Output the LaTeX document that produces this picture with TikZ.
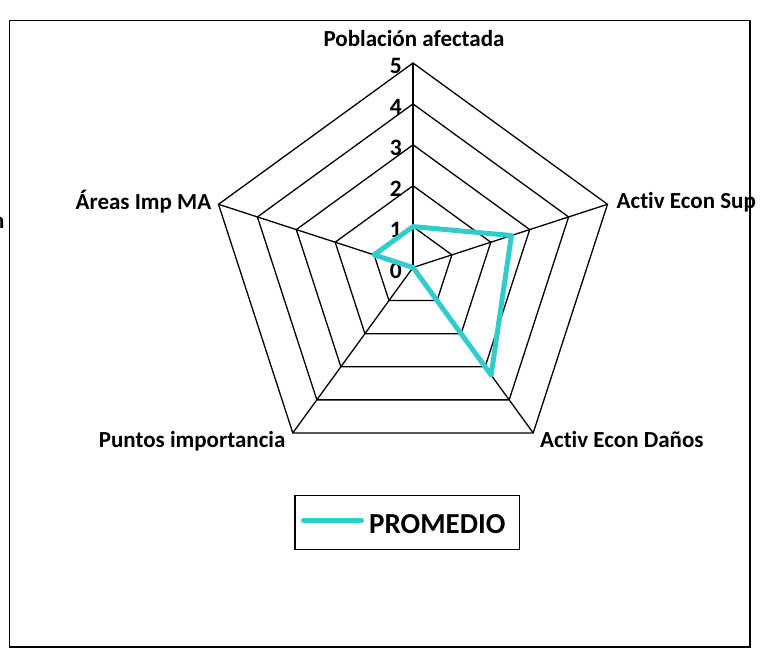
\documentclass[tikz,border=0pt]{standalone}
\usepackage{fontspec}
\setmainfont{Carlito}[Ligatures=NoCommon, RawFeature={-liga;-dlig}]
\usetikzlibrary{calc}
\definecolor{promedio}{RGB}{51,204,204}
\begin{document}
\begin{tikzpicture}[x=1pt,y=-1pt,
  grid/.style={line width=1.3pt, black, line join=miter},
  dataline/.style={line width=5pt, promedio, line join=round},
  axislabel/.style={font=\bfseries\fontsize{23}{27}\selectfont, inner sep=0pt},
  ticklabel/.style={font=\bfseries\fontsize{23.5}{27}\selectfont, inner sep=0pt, anchor=east},
  frame/.style={line width=1.3pt, black}]
\useasboundingbox (0,0) rectangle (771,652);
\clip (0,0) rectangle (771,652);
% outer frame
\draw[frame] (9.5,20.5) rectangle (750,647);
% geometry
\coordinate (C) at (413,267.5);
\foreach \n/\a in {P/-90,S/-18,D/54,U/126,A/198} {
  \foreach \k in {1,...,5} {
    \coordinate (\n\k) at ({413+40.9*\k*cos(\a)},{267.5+40.9*\k*sin(\a)});
  }
}
% rings
\foreach \k in {1,...,5}
  \draw[grid] (P\k) -- (S\k) -- (D\k) -- (U\k) -- (A\k) -- cycle;
% spokes
\foreach \n in {P,S,D,U,A}
  \draw[grid] (C) -- (\n5);
% tick labels
\foreach \k in {0,...,5}
  \node[ticklabel] (t\k) at (402,{267.5-40.9*\k+3}) {\k};
% axis labels
\node[axislabel, anchor=base] (lP) at (414,46.5) {Población afectada};
\node[axislabel, anchor=base west] (lS) at (616.5,208.5) {Activ Econ Sup};
\node[axislabel, anchor=base west] (lD) at (540,447) {Activ Econ Daños};
\node[axislabel, anchor=base east] (lU) at (285.5,447) {Puntos importancia};
\node[axislabel, anchor=base east] (lA) at (211.5,210) {Áreas Imp MA};
\node[axislabel, anchor=base east] (lx) at (4.7,228.5) {n};
% data
\coordinate (dP) at ($(C)!0.2!(P5)$);
\coordinate (dS) at ($(C)!0.506!(S5)$);
\coordinate (dD) at ($(C)!0.65!(D5)$);
\coordinate (dU) at (C);
\coordinate (dA) at ($(C)!0.2!(A5)$);
\draw[dataline] (dP) -- (dS) -- (dD) -- (dU) -- (dA) -- cycle;
% legend
\draw[line width=1.5pt] (295,495.7) rectangle (519.3,549.3);
\coordinate (L1) at (303.5,520.3);
\coordinate (L2) at (361.5,520.3);
\draw[dataline, line cap=round] (L1) -- (L2);
\node[font=\bfseries\fontsize{29}{33}\selectfont, inner sep=0pt, anchor=base west] (leg) at (369,533.3) {PROMEDIO};
\end{tikzpicture}
\end{document}
